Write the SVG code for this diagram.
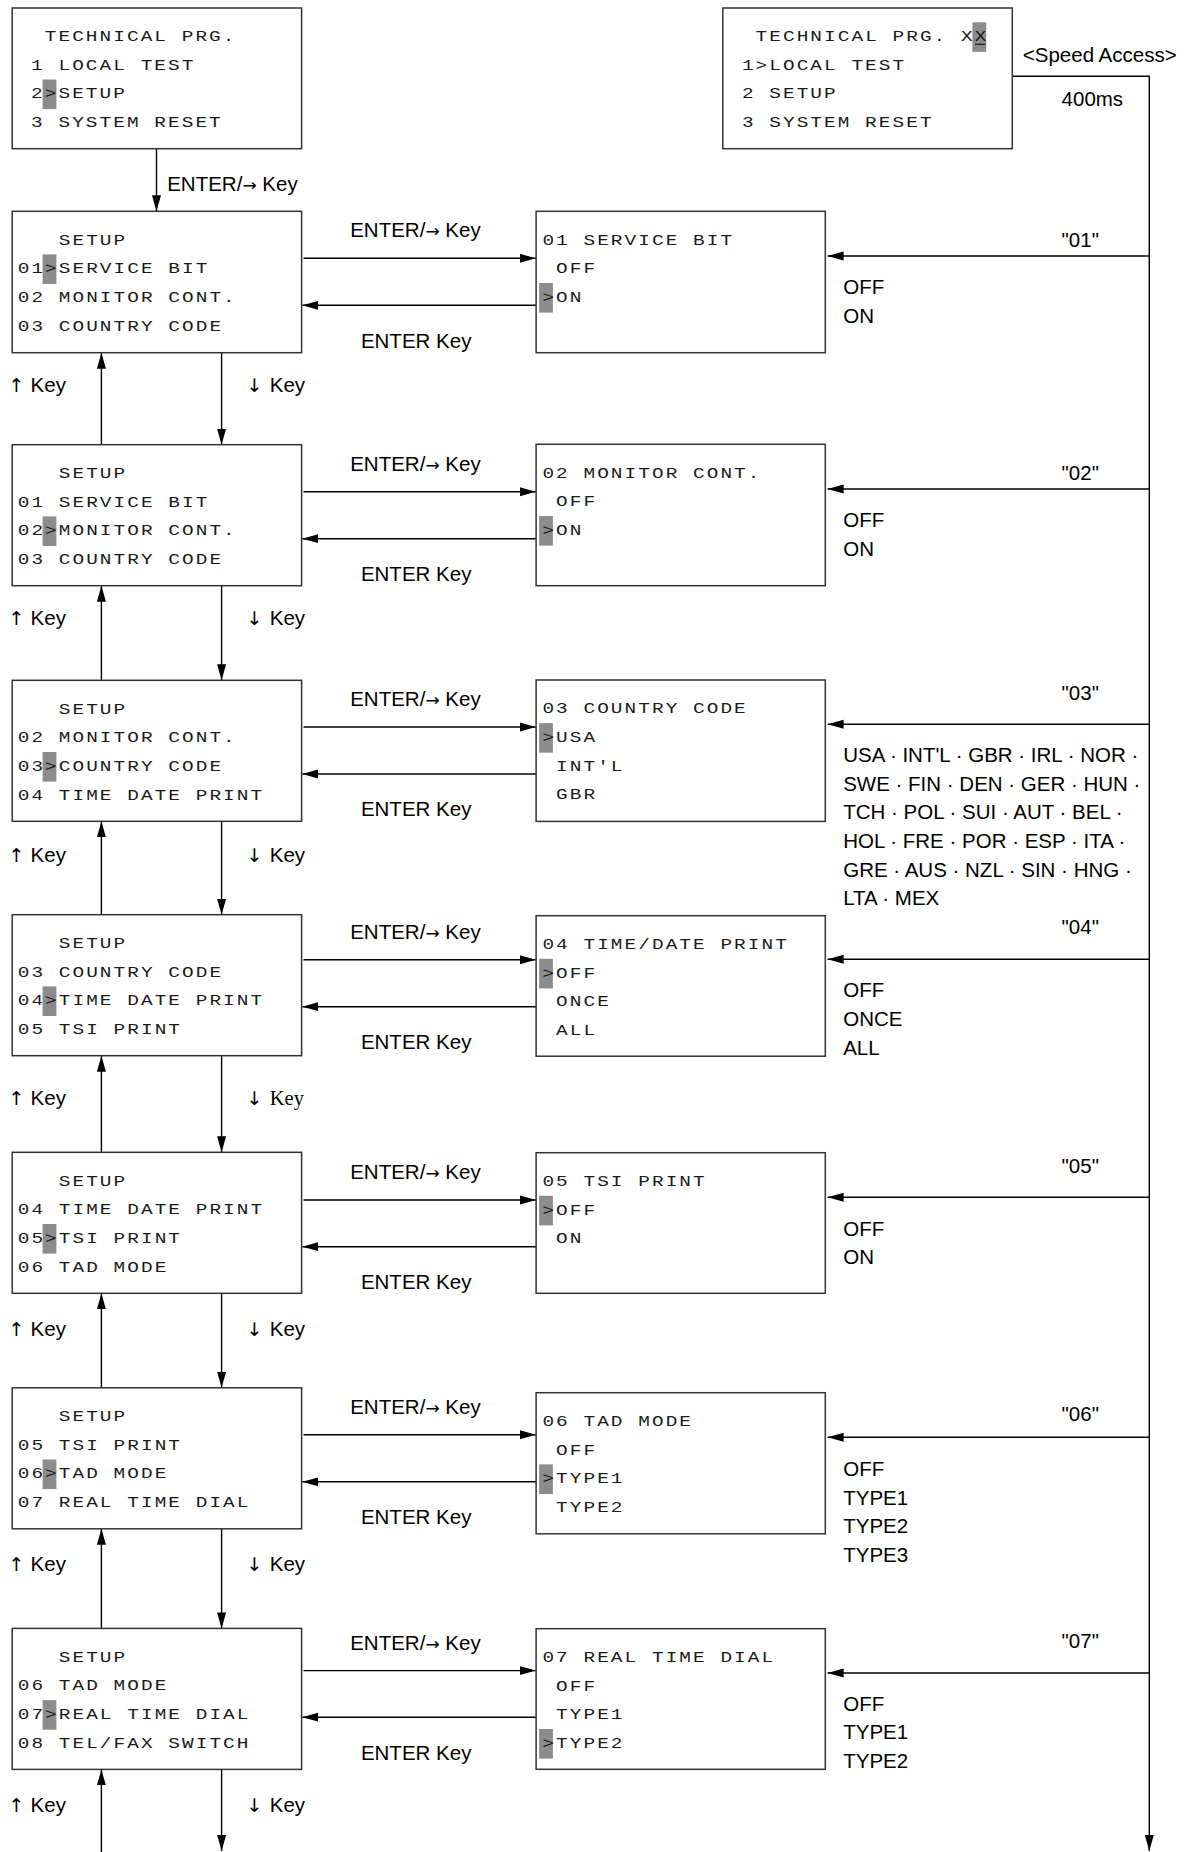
<svg xmlns="http://www.w3.org/2000/svg" width="1185" height="1852" viewBox="0 0 1185 1852">
<defs>
<style>
.box{fill:#fff;stroke:#333;stroke-width:1.5}
.lcd{font-family:"Liberation Mono","DejaVu Sans Mono",monospace;font-size:15.5px;letter-spacing:1.66px;fill:#1a1a1a}
.hl{fill:#8c8c8c}
.lbl{font-family:"Liberation Sans",Arial,sans-serif;font-size:20.5px;fill:#000}
.ar{font-family:"DejaVu Sans",sans-serif;font-size:17px}
.av{font-family:"DejaVu Sans",sans-serif;font-size:19px}
.serif{font-family:"Liberation Serif","Times New Roman",serif}
.conn{stroke:#000;stroke-width:1.4;fill:none}
</style>
<marker id="ah" markerUnits="userSpaceOnUse" markerWidth="17" markerHeight="10" refX="16" refY="5" orient="auto">
<path d="M0,0.5 L16,5 L0,9.5 z" fill="#000"/>
</marker>
</defs>
<rect width="1185" height="1852" fill="#fff"/>

<g id="connectors" class="conn" marker-end="url(#ah)">
<line x1="156.5" y1="149" x2="156.5" y2="211.3"/>
<polyline points="1012.3,76.3 1149.3,76.3 1149.3,1851"/>
<line x1="303.5" y1="258.3" x2="535.8" y2="258.3"/>
<line x1="536" y1="305.3" x2="302.3" y2="305.3"/>
<line x1="303.5" y1="491.7" x2="535.8" y2="491.7"/>
<line x1="536" y1="538.7" x2="302.3" y2="538.7"/>
<line x1="303.5" y1="727" x2="535.8" y2="727"/>
<line x1="536" y1="774" x2="302.3" y2="774"/>
<line x1="303.5" y1="959.7" x2="535.8" y2="959.7"/>
<line x1="536" y1="1006.7" x2="302.3" y2="1006.7"/>
<line x1="303.5" y1="1200" x2="535.8" y2="1200"/>
<line x1="536" y1="1246.7" x2="302.3" y2="1246.7"/>
<line x1="303.5" y1="1434.8" x2="535.8" y2="1434.8"/>
<line x1="536" y1="1481.8" x2="302.3" y2="1481.8"/>
<line x1="303.5" y1="1670.6" x2="535.8" y2="1670.6"/>
<line x1="536" y1="1717.2" x2="302.3" y2="1717.2"/>
<line x1="1149.3" y1="256" x2="827.6" y2="256"/>
<line x1="1149.3" y1="489" x2="827.6" y2="489"/>
<line x1="1149.3" y1="724.3" x2="827.6" y2="724.3"/>
<line x1="1149.3" y1="959.3" x2="827.6" y2="959.3"/>
<line x1="1149.3" y1="1197.3" x2="827.6" y2="1197.3"/>
<line x1="1149.3" y1="1437.3" x2="827.6" y2="1437.3"/>
<line x1="1149.3" y1="1673" x2="827.6" y2="1673"/>
<line x1="101.4" y1="444.7" x2="101.4" y2="352.7"/>
<line x1="221.6" y1="352.7" x2="221.6" y2="444.7"/>
<line x1="101.4" y1="680.3" x2="101.4" y2="585.7"/>
<line x1="221.6" y1="585.7" x2="221.6" y2="680.3"/>
<line x1="101.4" y1="914.7" x2="101.4" y2="821.3"/>
<line x1="221.6" y1="821.3" x2="221.6" y2="914.7"/>
<line x1="101.4" y1="1152.3" x2="101.4" y2="1055.7"/>
<line x1="221.6" y1="1055.7" x2="221.6" y2="1152.3"/>
<line x1="101.4" y1="1387.8" x2="101.4" y2="1293.3"/>
<line x1="221.6" y1="1293.3" x2="221.6" y2="1387.8"/>
<line x1="101.4" y1="1628.4" x2="101.4" y2="1528.8"/>
<line x1="221.6" y1="1528.8" x2="221.6" y2="1628.4"/>
<line x1="101.4" y1="1852" x2="101.4" y2="1769.4"/>
<line x1="221.6" y1="1769.4" x2="221.6" y2="1851"/>
</g>

<g id="labels" class="lbl">
<text x="167.2" y="191">ENTER/<tspan class="ar">→</tspan> Key</text>
<text x="1022.8" y="62.3">&lt;Speed Access&gt;</text>
<text x="1061.6" y="106">400ms</text>
<text x="350.2" y="237.3">ENTER/<tspan class="ar">→</tspan> Key</text><text x="360.9" y="347.7">ENTER Key</text>
<text x="350.2" y="470.7">ENTER/<tspan class="ar">→</tspan> Key</text><text x="360.9" y="581">ENTER Key</text>
<text x="350.2" y="706">ENTER/<tspan class="ar">→</tspan> Key</text><text x="360.9" y="816.3">ENTER Key</text>
<text x="350.2" y="938.7">ENTER/<tspan class="ar">→</tspan> Key</text><text x="360.9" y="1049">ENTER Key</text>
<text x="350.2" y="1178.7">ENTER/<tspan class="ar">→</tspan> Key</text><text x="360.9" y="1289">ENTER Key</text>
<text x="350.2" y="1413.8">ENTER/<tspan class="ar">→</tspan> Key</text><text x="360.9" y="1524">ENTER Key</text>
<text x="350.2" y="1649.6">ENTER/<tspan class="ar">→</tspan> Key</text><text x="360.9" y="1759.5">ENTER Key</text>
<text y="391.7"><tspan x="8.5" class="av">↑</tspan><tspan x="30.6">Key</tspan></text>
<text y="391.7"><tspan x="246.5" class="av">↓</tspan><tspan x="269.8">Key</tspan></text>
<text y="625"><tspan x="8.5" class="av">↑</tspan><tspan x="30.6">Key</tspan></text>
<text y="625"><tspan x="246.5" class="av">↓</tspan><tspan x="269.8">Key</tspan></text>
<text y="862.3"><tspan x="8.5" class="av">↑</tspan><tspan x="30.6">Key</tspan></text>
<text y="862.3"><tspan x="246.5" class="av">↓</tspan><tspan x="269.8">Key</tspan></text>
<text y="1105"><tspan x="8.5" class="av">↑</tspan><tspan x="30.6">Key</tspan></text>
<text y="1105"><tspan x="246.5" class="av">↓</tspan><tspan x="269.8" class="serif">Key</tspan></text>
<text y="1335.5"><tspan x="8.5" class="av">↑</tspan><tspan x="30.6">Key</tspan></text>
<text y="1335.5"><tspan x="246.5" class="av">↓</tspan><tspan x="269.8">Key</tspan></text>
<text y="1570.6"><tspan x="8.5" class="av">↑</tspan><tspan x="30.6">Key</tspan></text>
<text y="1570.6"><tspan x="246.5" class="av">↓</tspan><tspan x="269.8">Key</tspan></text>
<text y="1812.2"><tspan x="8.5" class="av">↑</tspan><tspan x="30.6">Key</tspan></text>
<text y="1812.2"><tspan x="246.5" class="av">↓</tspan><tspan x="269.8">Key</tspan></text>
<text x="1061.6" y="247.3">"01"</text>
<text x="1061.6" y="480">"02"</text>
<text x="1061.6" y="700">"03"</text>
<text x="1061.6" y="934">"04"</text>
<text x="1061.6" y="1172.7">"05"</text>
<text x="1061.6" y="1420.7">"06"</text>
<text x="1061.6" y="1648.3">"07"</text>
<text x="843.2" y="294">OFF</text><text x="843.2" y="322.7">ON</text>
<text x="843.2" y="526.7">OFF</text><text x="843.2" y="556">ON</text>
<text x="843.2" y="762.3">USA · INT'L · GBR · IRL · NOR ·</text>
<text x="843.2" y="790.7">SWE · FIN · DEN · GER · HUN ·</text>
<text x="843.2" y="819.3">TCH · POL · SUI · AUT · BEL ·</text>
<text x="843.2" y="848">HOL · FRE · POR · ESP · ITA ·</text>
<text x="843.2" y="876.7">GRE · AUS · NZL · SIN · HNG ·</text>
<text x="843.2" y="905">LTA · MEX</text>
<text x="843.2" y="997.3">OFF</text><text x="843.2" y="1026">ONCE</text><text x="843.2" y="1054.7">ALL</text>
<text x="843.2" y="1236">OFF</text><text x="843.2" y="1264">ON</text>
<text x="843.2" y="1476">OFF</text><text x="843.2" y="1504.7">TYPE1</text><text x="843.2" y="1533.3">TYPE2</text><text x="843.2" y="1562">TYPE3</text>
<text x="843.2" y="1710.7">OFF</text><text x="843.2" y="1739.3">TYPE1</text><text x="843.2" y="1768">TYPE2</text>
</g>

<g id="tech-prg">
<rect class="box" x="12.2" y="8" width="289.4" height="140.7"/>
<rect class="hl" x="42.6" y="79.5" width="13.8" height="29.6"/>
<g class="lcd" transform="translate(17.4,0) scale(1.25,1)">
<text x="21.92" y="41.3">TECHNICAL PRG.</text>
<text x="10.96" y="69.9">1 LOCAL TEST</text>
<text x="10.96" y="98.5">2&gt;SETUP</text>
<text x="10.96" y="127.1">3 SYSTEM RESET</text>
</g>
</g>
<g id="tech-prg-xx">
<rect class="box" x="722.8" y="8" width="289.5" height="140.7"/>
<rect class="hl" x="972.4" y="22.3" width="13.8" height="29.6"/>
<line x1="975" y1="44.3" x2="985.5" y2="44.3" stroke="#1a1a1a" stroke-width="1.2"/>
<g class="lcd" transform="translate(728.2,0) scale(1.25,1)">
<text x="21.92" y="41.3">TECHNICAL PRG. XX</text>
<text x="10.96" y="69.9">1&gt;LOCAL TEST</text>
<text x="10.96" y="98.5">2 SETUP</text>
<text x="10.96" y="127.1">3 SYSTEM RESET</text>
</g>
</g>

<g id="setup-01">
<rect class="box" x="12.2" y="211.3" width="289.4" height="141.4"/>
<rect class="hl" x="42.6" y="254.4" width="13.8" height="29.6"/>
<g class="lcd" transform="translate(17.7,0) scale(1.25,1)">
<text x="32.88" y="244.8">SETUP</text>
<text x="0" y="273.4">01&gt;SERVICE BIT</text>
<text x="0" y="302">02 MONITOR CONT.</text>
<text x="0" y="330.6">03 COUNTRY CODE</text>
</g>
</g>
<g id="opt-01">
<rect class="box" x="536.1" y="211.3" width="289.2" height="141.4"/>
<rect class="hl" x="539.1" y="283" width="13.8" height="29.6"/>
<g class="lcd" transform="translate(542.4,0) scale(1.25,1)">
<text x="0" y="244.8">01 SERVICE BIT</text>
<text x="10.96" y="273.4">OFF</text>
<text x="0" y="302">&gt;ON</text>
</g>
</g>

<g id="setup-02">
<rect class="box" x="12.2" y="444.7" width="289.4" height="141"/>
<rect class="hl" x="42.6" y="516.4" width="13.8" height="29.6"/>
<g class="lcd" transform="translate(17.7,0) scale(1.25,1)">
<text x="32.88" y="478.2">SETUP</text>
<text x="0" y="506.8">01 SERVICE BIT</text>
<text x="0" y="535.4">02&gt;MONITOR CONT.</text>
<text x="0" y="564">03 COUNTRY CODE</text>
</g>
</g>
<g id="opt-02">
<rect class="box" x="536.1" y="444.3" width="289.2" height="141.4"/>
<rect class="hl" x="539.1" y="516" width="13.8" height="29.6"/>
<g class="lcd" transform="translate(542.4,0) scale(1.25,1)">
<text x="0" y="477.8">02 MONITOR CONT.</text>
<text x="10.96" y="506.4">OFF</text>
<text x="0" y="535">&gt;ON</text>
</g>
</g>

<g id="setup-03">
<rect class="box" x="12.2" y="680.3" width="289.4" height="141"/>
<rect class="hl" x="42.6" y="752" width="13.8" height="29.6"/>
<g class="lcd" transform="translate(17.7,0) scale(1.25,1)">
<text x="32.88" y="713.8">SETUP</text>
<text x="0" y="742.4">02 MONITOR CONT.</text>
<text x="0" y="771">03&gt;COUNTRY CODE</text>
<text x="0" y="799.6">04 TIME DATE PRINT</text>
</g>
</g>
<g id="opt-03">
<rect class="box" x="536.1" y="680" width="289.2" height="141.4"/>
<rect class="hl" x="539.1" y="723.1" width="13.8" height="29.6"/>
<g class="lcd" transform="translate(542.4,0) scale(1.25,1)">
<text x="0" y="713.5">03 COUNTRY CODE</text>
<text x="0" y="742.1">&gt;USA</text>
<text x="10.96" y="770.7">INT'L</text>
<text x="10.96" y="799.3">GBR</text>
</g>
</g>

<g id="setup-04">
<rect class="box" x="12.2" y="914.7" width="289.4" height="141"/>
<rect class="hl" x="42.6" y="986.4" width="13.8" height="29.6"/>
<g class="lcd" transform="translate(17.7,0) scale(1.25,1)">
<text x="32.88" y="948.2">SETUP</text>
<text x="0" y="976.8">03 COUNTRY CODE</text>
<text x="0" y="1005.4">04&gt;TIME DATE PRINT</text>
<text x="0" y="1034">05 TSI PRINT</text>
</g>
</g>
<g id="opt-04">
<rect class="box" x="536.1" y="915.7" width="289.2" height="140.5"/>
<rect class="hl" x="539.1" y="958.8" width="13.8" height="29.6"/>
<g class="lcd" transform="translate(542.4,0) scale(1.25,1)">
<text x="0" y="949.2">04 TIME/DATE PRINT</text>
<text x="0" y="977.8">&gt;OFF</text>
<text x="10.96" y="1006.4">ONCE</text>
<text x="10.96" y="1035">ALL</text>
</g>
</g>

<g id="setup-05">
<rect class="box" x="12.2" y="1152.3" width="289.4" height="141"/>
<rect class="hl" x="42.6" y="1224" width="13.8" height="29.6"/>
<g class="lcd" transform="translate(17.7,0) scale(1.25,1)">
<text x="32.88" y="1185.8">SETUP</text>
<text x="0" y="1214.4">04 TIME DATE PRINT</text>
<text x="0" y="1243">05&gt;TSI PRINT</text>
<text x="0" y="1271.6">06 TAD MODE</text>
</g>
</g>
<g id="opt-05">
<rect class="box" x="536.1" y="1152.7" width="289.2" height="140.6"/>
<rect class="hl" x="539.1" y="1195.8" width="13.8" height="29.6"/>
<g class="lcd" transform="translate(542.4,0) scale(1.25,1)">
<text x="0" y="1186.2">05 TSI PRINT</text>
<text x="0" y="1214.8">&gt;OFF</text>
<text x="10.96" y="1243.4">ON</text>
</g>
</g>

<g id="setup-06">
<rect class="box" x="12.2" y="1387.8" width="289.4" height="141"/>
<rect class="hl" x="42.6" y="1459.5" width="13.8" height="29.6"/>
<g class="lcd" transform="translate(17.7,0) scale(1.25,1)">
<text x="32.88" y="1421.3">SETUP</text>
<text x="0" y="1449.9">05 TSI PRINT</text>
<text x="0" y="1478.5">06&gt;TAD MODE</text>
<text x="0" y="1507.1">07 REAL TIME DIAL</text>
</g>
</g>
<g id="opt-06">
<rect class="box" x="536.1" y="1392.7" width="289.2" height="141.1"/>
<rect class="hl" x="539.1" y="1464.4" width="13.8" height="29.6"/>
<g class="lcd" transform="translate(542.4,0) scale(1.25,1)">
<text x="0" y="1426.2">06 TAD MODE</text>
<text x="10.96" y="1454.8">OFF</text>
<text x="0" y="1483.4">&gt;TYPE1</text>
<text x="10.96" y="1512">TYPE2</text>
</g>
</g>

<g id="setup-07">
<rect class="box" x="12.2" y="1628.4" width="289.4" height="141"/>
<rect class="hl" x="42.6" y="1700.1" width="13.8" height="29.6"/>
<g class="lcd" transform="translate(17.7,0) scale(1.25,1)">
<text x="32.88" y="1661.9">SETUP</text>
<text x="0" y="1690.5">06 TAD MODE</text>
<text x="0" y="1719.1">07&gt;REAL TIME DIAL</text>
<text x="0" y="1747.7">08 TEL/FAX SWITCH</text>
</g>
</g>
<g id="opt-07">
<rect class="box" x="536.1" y="1628.7" width="289.2" height="140.6"/>
<rect class="hl" x="539.1" y="1729" width="13.8" height="29.6"/>
<g class="lcd" transform="translate(542.4,0) scale(1.25,1)">
<text x="0" y="1662.2">07 REAL TIME DIAL</text>
<text x="10.96" y="1690.8">OFF</text>
<text x="10.96" y="1719.4">TYPE1</text>
<text x="0" y="1748">&gt;TYPE2</text>
</g>
</g>
</svg>
